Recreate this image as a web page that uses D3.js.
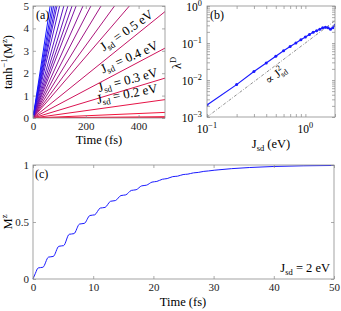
<!DOCTYPE html>
<html>
<head>
<meta charset="utf-8">
<script src="https://cdn.jsdelivr.net/npm/d3@7"></script>
<style>
  body { margin: 0; background: #fff; }
  svg { font-family: "Liberation Serif", "DejaVu Serif", serif; }
  .tick text { font-size: 11px; fill: #222; font-family: "Liberation Serif", serif; }
  .tick line { stroke: #888; }
</style>
</head>
<body>
<svg id="fig" width="341" height="311"></svg>
<script>
// ---- panel (a): tanh^-1(M^z) lines, value reached at t = 500 fs ----
const aTime = [0, 500]
const aJsd = [0.01, 0.05, 0.1, 0.2, 0.3, 0.4, 0.5, 0.6, 0.7, 0.8, 0.9, 1.0,
              1.1, 1.2, 1.3, 1.4, 1.5, 1.6, 1.7, 1.8, 1.9, 2.0]
const aEnd = [0.02, 0.06, 0.25, 0.82, 1.78, 3.12, 4.75, 6.85, 8.1, 9.7, 11.4,
              13.2, 15.3, 16.9, 18.9, 21.4, 24.8, 27.5, 29.4, 32, 34.7, 38.5]
const aLabels = [0.2, 0.3, 0.4, 0.5]
const aXTicks = [0, 200, 400]
const aYTicks = [0, 1, 2, 3, 4, 5]

// ---- panel (b): lambda^D against J_sd ----
const bJsd = [0.1, 0.2, 0.3, 0.4, 0.5, 0.6, 0.7, 0.8, 0.9, 1.0,
              1.1, 1.2, 1.3, 1.4, 1.5, 1.6, 1.7, 1.8, 1.9, 2.0]
const bLambda = [0.0021, 0.0075, 0.017, 0.029, 0.044, 0.062, 0.081, 0.10, 0.122, 0.145,
                 0.17, 0.195, 0.215, 0.235, 0.26, 0.265, 0.26, 0.235, 0.26, 0.30]
const bRefJsd = [0.1, 2]
const bRefLambda = [0.001, 0.4]

// ---- panel (c): M^z(t) for J_sd = 2 eV ----
const cTime = [0, 0.4, 0.85, 1.65, 2.57, 3.37, 4.29, 5.09, 6.01, 6.81, 7.73, 8.53,
               9.45, 10.25, 11.17, 11.97, 12.89, 13.69, 14.61, 15.41, 16.33, 17.13,
               18.05, 18.85, 19.77, 20.57, 21.49, 22.29, 23.21, 24.01, 24.93, 25.73,
               26.65, 27.45, 28.37, 29.17, 30.09, 30.89, 33, 36, 40, 45, 50]
const cMz = [0, 0.05, 0.097, 0.103, 0.192, 0.198, 0.287, 0.293, 0.392, 0.398, 0.482, 0.488,
             0.557, 0.563, 0.622, 0.628, 0.682, 0.688, 0.732, 0.738, 0.777, 0.783,
             0.817, 0.823, 0.85, 0.856, 0.875, 0.881, 0.898, 0.902, 0.916, 0.92,
             0.931, 0.935, 0.944, 0.948, 0.954, 0.958, 0.968, 0.978, 0.987, 0.993, 0.996]
const cXTicks = [0, 10, 20, 30, 40, 50]
const cYTicks = [0, 0.5, 1]

const svg = d3.select('#fig')
const blue = '#1a1aff'
const boxColor = '#8c8c8c'

/* -------------- helpers -------------- */

function box(x0, x1, y0, y1) {
    svg.append('rect')
        .attr('x', x0).attr('y', y0)
        .attr('width', x1 - x0).attr('height', y1 - y0)
        .attr('fill', 'none')
        .attr('stroke', boxColor)
        .attr('stroke-width', 0.8)
}

function axes(x, y, xTicks, yTicks, xFmt, yFmt) {
    let [x0, x1] = x.range()
    let [y1, y0] = y.range()
    let ax = [
        [d3.axisBottom(x).tickValues(xTicks).tickFormat(xFmt), 'translate(0,' + y1 + ')'],
        [d3.axisTop(x).tickValues(xTicks).tickFormat(''), 'translate(0,' + y0 + ')'],
        [d3.axisLeft(y).tickValues(yTicks).tickFormat(yFmt), 'translate(' + x0 + ',0)'],
        [d3.axisRight(y).tickValues(yTicks).tickFormat(''), 'translate(' + x1 + ',0)']
    ]
    for (let [a, tr] of ax) {
        let g = svg.append('g')
            .attr('transform', tr)
            .call(a.tickSizeInner(-3).tickSizeOuter(0).tickPadding(4))
        g.select('.domain').remove()
        g.selectAll('.tick line').attr('stroke', boxColor).attr('stroke-width', 0.7)
    }
}

function richText(parent, parts, attrs) {
    // parts: [text, 'sub' | 'sup' | null, dx]
    let t = parent.append('text')
    for (let k in attrs) t.attr(k, attrs[k])
    let shift = 0
    for (let [s, kind, dx] of parts) {
        let want = kind === 'sub' ? 2.5 : kind === 'sup' ? -5 : 0
        let sp = t.append('tspan').text(s).attr('dy', want - shift)
        if (kind) sp.attr('font-size', '0.68em')
        if (dx) sp.attr('dx', dx)
        shift = want
    }
    return t
}

function powTen(sel, e) {
    sel.text(null)
    sel.append('tspan').text('10')
    sel.append('tspan').text(e).attr('dy', -5).attr('font-size', '0.72em')
}

/* -------------- PANEL (a) -------------- */

let xa = d3.scaleLinear().domain([0, 500]).range([33, 165])
let ya = d3.scaleLinear().domain([0, 5]).range([118, 6])

svg.append('clipPath').attr('id', 'clipA')
    .append('rect').attr('x', 33).attr('y', 6).attr('width', 132).attr('height', 112)

let colorA = d3.interpolateRgb('#f2143c', '#1414ff')
let lineA = d3.line().x(d => xa(d[0])).y(d => ya(d[1]))

svg.append('g').attr('clip-path', 'url(#clipA)')
    .selectAll('path')
    .data(aEnd)
    .enter().append('path')
    .attr('d', v => lineA([[aTime[0], 0], [aTime[1], v]]))
    .attr('fill', 'none')
    .attr('stroke', (v, i) => colorA(Math.max(0, aJsd[i] - 0.1) / 1.9))
    .attr('stroke-width', 1)

axes(xa, ya, aXTicks, aYTicks, d3.format('d'), d3.format('d'))
box(33, 165, 6, 118)

// rotated labels along the lines
let labelPos = [[128, 98, -11], [129, 84, -15], [131, 61, -24], [129, 34, -35]]
aLabels.forEach(function(j, i) {
    let [px, py, rot] = labelPos[i]
    richText(svg, [['J', null], ['sd', 'sub'], [' = ' + j + ' eV', null]], {
        'x': 0, 'y': 0,
        'font-size': 13,
        'text-anchor': 'middle',
        'transform': 'translate(' + px + ',' + py + ') rotate(' + rot + ')'
    })
})

svg.append('text').attr('x', 36).attr('y', 19).attr('font-size', 12).text('(a)')
svg.append('text').attr('x', 99).attr('y', 144).attr('font-size', 12.5)
    .attr('text-anchor', 'middle').text('Time (fs)')
richText(svg, [['tanh', null], ['−1', 'sup'], ['(M', null], ['z', 'sup'], [')', null]], {
    'x': 0, 'y': 0, 'font-size': 12.5, 'text-anchor': 'middle',
    'transform': 'translate(12,62) rotate(-90)'
})

/* -------------- PANEL (b) -------------- */

let xb = d3.scaleLog().domain([0.1, 2]).range([207, 335])
let yb = d3.scaleLog().domain([0.001, 1]).range([117, 6])

svg.append('clipPath').attr('id', 'clipB')
    .append('rect').attr('x', 207).attr('y', 6).attr('width', 128).attr('height', 111)

let gb = svg.append('g').attr('clip-path', 'url(#clipB)')

gb.append('path')
    .attr('d', d3.line().x(d => xb(d[0])).y(d => yb(d[1]))(d3.zip(bRefJsd, bRefLambda)))
    .attr('fill', 'none')
    .attr('stroke', '#444')
    .attr('stroke-width', 0.6)
    .attr('stroke-dasharray', '3,1.5,0.8,1.5')

let bPts = d3.zip(bJsd, bLambda)
gb.append('path')
    .attr('d', d3.line().x(d => xb(d[0])).y(d => yb(d[1]))(bPts))
    .attr('fill', 'none')
    .attr('stroke', blue)
    .attr('stroke-width', 1.2)

gb.selectAll('circle')
    .data(bPts)
    .enter().append('circle')
    .attr('cx', d => xb(d[0]))
    .attr('cy', d => yb(d[1]))
    .attr('r', 1.5)
    .attr('fill', blue)

let bxTicks = [0.1, 0.2, 0.3, 0.4, 0.5, 0.6, 0.7, 0.8, 0.9, 1, 2]
let byTicks = yb.ticks()
axes(xb, yb, bxTicks, byTicks, () => '', () => '')

// decade labels
let bxLab = svg.append('g')
for (let [v, e] of [[0.1, '−1'], [1, '0']]) {
    bxLab.append('text').attr('x', xb(v)).attr('y', 133).attr('font-size', 11.5)
        .attr('text-anchor', 'middle').call(powTen, e)
}
for (let [v, e] of [[1, '0'], [0.1, '−1'], [0.01, '−2'], [0.001, '−3']]) {
    bxLab.append('text').attr('x', 202).attr('y', yb(v) + 5).attr('font-size', 11.5)
        .attr('text-anchor', 'end').call(powTen, e)
}
box(207, 335, 6, 117)

svg.append('text').attr('x', 210).attr('y', 19).attr('font-size', 12).text('(b)')
richText(svg, [['J', null], ['sd', 'sub'], [' (eV)', null]], {
    'x': 271, 'y': 148, 'font-size': 12.5, 'text-anchor': 'middle'
})
richText(svg, [['λ', null], ['D', 'sup']], {
    'x': 0, 'y': 0, 'font-size': 12.5, 'text-anchor': 'middle',
    'transform': 'translate(181,63) rotate(-90)'
})
richText(svg, [['∝ J', null], ['sd', 'sub'], ['2', 'sup', -7]], {
    'x': 0, 'y': 0, 'font-size': 12, 'text-anchor': 'middle',
    'transform': 'translate(278,78) rotate(-37)'
})

/* -------------- PANEL (c) -------------- */

let xc = d3.scaleLinear().domain([0, 50]).range([33, 334])
let yc = d3.scaleLinear().domain([0, 1]).range([279, 165])

svg.append('path')
    .attr('d', d3.line().curve(d3.curveMonotoneX)
        .x(d => xc(d[0])).y(d => yc(d[1]))(d3.zip(cTime, cMz)))
    .attr('fill', 'none')
    .attr('stroke', blue)
    .attr('stroke-width', 1)

axes(xc, yc, cXTicks, cYTicks, d3.format('d'), d => d === 0.5 ? '0.5' : d3.format('d')(d))
box(33, 334, 165, 279)

svg.append('text').attr('x', 35).attr('y', 178).attr('font-size', 12).text('(c)')
svg.append('text').attr('x', 183).attr('y', 306).attr('font-size', 12.5)
    .attr('text-anchor', 'middle').text('Time (fs)')
richText(svg, [['M', null], ['z', 'sup']], {
    'x': 0, 'y': 0, 'font-size': 12.5, 'text-anchor': 'middle',
    'transform': 'translate(12,222) rotate(-90)'
})
richText(svg, [['J', null], ['sd', 'sub'], [' = 2 eV', null]], {
    'x': 330, 'y': 272, 'font-size': 12.5, 'text-anchor': 'end'
})
</script>
</body>
</html>
